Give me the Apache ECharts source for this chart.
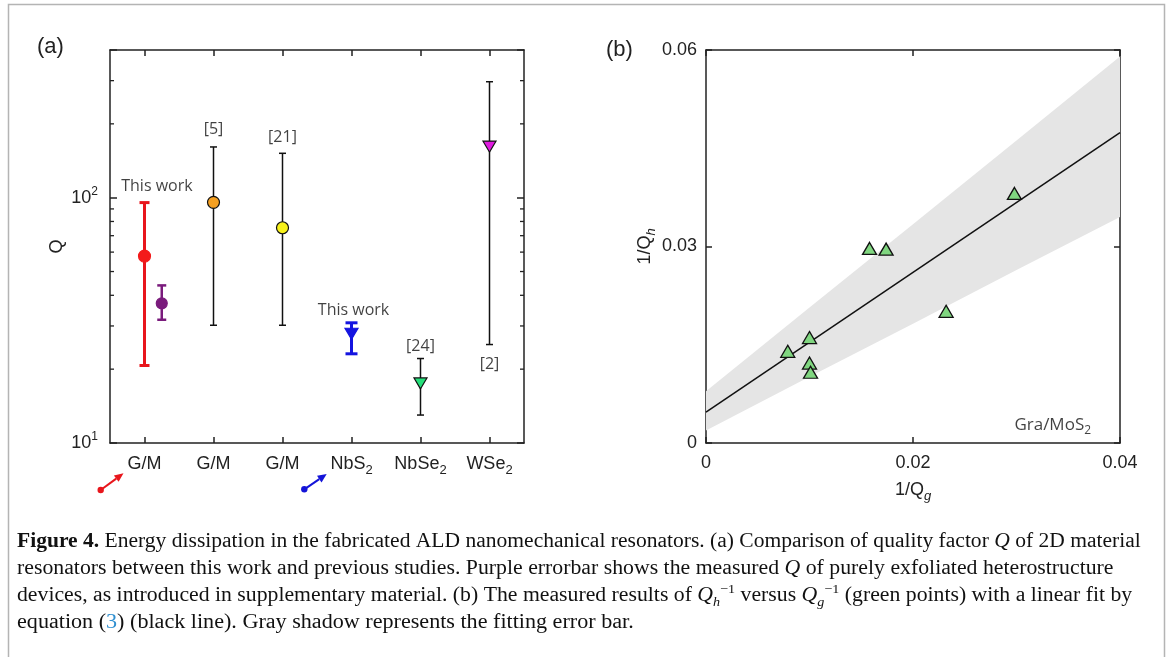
<!DOCTYPE html>
<html>
<head>
<meta charset="utf-8">
<script src="https://cdn.jsdelivr.net/npm/echarts@6/dist/echarts.min.js"></script>
<style>
  html, body { margin: 0; padding: 0; background: #fff; }
  #chart { width: 1171px; height: 657px; }
</style>
</head>
<body>
<div id="chart"></div>
<script>
// (a) quality factor of 2D material resonators
const catLabels = ['G/M', 'G/M', 'G/M', 'NbS{sub|2}', 'NbSe{sub|2}', 'WSe{sub|2}'];
const catTicks = [1, 2, 3, 4, 5, 6];
const qPos = [1, 1.25, 2, 3, 4, 5, 6];
const qVal = [57.8, 37.1, 95.7, 75.4, 27.9, 17.5, 161.5];
const qLow = [20.7, 31.8, 30.2, 30.2, 23.1, 13.0, 25.2];
const qHigh = [95.5, 43.9, 161, 151.7, 30.9, 22.1, 297];
const qMinorTicks = [20, 30, 40, 50, 60, 70, 80, 90, 200, 300];

const noteX = [1.18, 2, 3, 4.03, 5, 6];
const noteY = [111, 190, 176.6, 34.8, 24.8, 20.9];
const noteText = ['This work', '[5]', '[21]', 'This work', '[24]', '[2]'];

// (b) 1/Qh versus 1/Qg with linear fit
const invQg = [0.0158, 0.0174, 0.0298, 0.0232, 0.0100, 0.0079, 0.0100, 0.0101];
const invQh = [0.0297, 0.0296, 0.0381, 0.0201, 0.0161, 0.0140, 0.0122, 0.0108];
const fitX = [0, 0.04];
const fitY = [0.0047, 0.0474];
const bandX = [0, 0.01, 0.02, 0.03, 0.04];
const bandLow = [0.0019, 0.0101, 0.0182, 0.0264, 0.0345];
const bandHigh = [0.0079, 0.0207, 0.0334, 0.0462, 0.0590];

const INK = '#222';
const SANS = '"Liberation Sans", Arial, sans-serif';
const NOTE = '"Open Sans", sans-serif';
const SERIF = '"Liberation Serif", "Times New Roman", serif';

// marker / errorbar look for each entry of panel (a)
const qStyle = [
  { bar: '#e8161c', w: 3, cap: 10, symbol: 'circle', size: 12, fill: '#f31a1a', edge: '#f31a1a', rot: 0 },
  { bar: '#7a1b7c', w: 2.5, cap: 9, symbol: 'circle', size: 11, fill: '#7a1b7c', edge: '#7a1b7c', rot: 0 },
  { bar: '#111', w: 1.5, cap: 7, symbol: 'circle', size: 12, fill: '#f5a021', edge: '#111', rot: 0 },
  { bar: '#111', w: 1.5, cap: 7, symbol: 'circle', size: 12, fill: '#f8f21c', edge: '#111', rot: 0 },
  { bar: '#1414e0', w: 3, cap: 12, symbol: 'triangle', size: [13, 11], fill: '#1414e0', edge: '#1414e0', rot: 180 },
  { bar: '#111', w: 1.5, cap: 7, symbol: 'triangle', size: [13, 11], fill: '#25df7a', edge: '#111', rot: 180 },
  { bar: '#111', w: 1.5, cap: 7, symbol: 'triangle', size: [13, 11], fill: '#e01ae0', edge: '#111', rot: 180 }
];

const subRich = {
  sub: { fontSize: 13, fontFamily: SANS, color: INK, verticalAlign: 'bottom', lineHeight: 12 },
  sup: { fontSize: 12, fontFamily: SANS, color: INK, verticalAlign: 'top', lineHeight: 12 },
  isub: { fontSize: 13, fontFamily: SANS, color: INK, fontStyle: 'italic', verticalAlign: 'bottom', lineHeight: 12 }
};

function boxAxis(gridIndex, position, extra) {
  return Object.assign({
    gridIndex: gridIndex,
    position: position,
    axisLine: { show: true, onZero: false, lineStyle: { color: INK, width: 1.5 } },
    axisTick: { show: true, inside: true, length: 6, lineStyle: { color: INK, width: 1.5 } },
    axisLabel: { show: false },
    splitLine: { show: false },
    minorTick: { show: false }
  }, extra);
}

const chart = echarts.init(document.getElementById('chart'), null, { renderer: 'canvas' });

function arrow(x1, y1, x2, y2, color) {
  const a = Math.atan2(y2 - y1, x2 - x1);
  const L = 9, W = 4;
  const bx = x2 - L * Math.cos(a), by = y2 - L * Math.sin(a);
  const nx = -Math.sin(a) * W, ny = Math.cos(a) * W;
  return {
    type: 'group',
    children: [
      { type: 'circle', shape: { cx: x1, cy: y1, r: 3.2 }, style: { fill: color } },
      { type: 'line', shape: { x1: x1, y1: y1, x2: bx, y2: by }, style: { stroke: color, lineWidth: 2 } },
      { type: 'polygon', shape: { points: [[x2, y2], [bx + nx, by + ny], [bx - nx, by - ny]] }, style: { fill: color } }
    ]
  };
}

const captionRich = {
  b: { fontFamily: SERIF, fontSize: 20, fontWeight: 'bold', fill: '#111' },
  i: { fontFamily: SERIF, fontSize: 20, fontStyle: 'italic', fill: '#111' },
  sub: { fontFamily: SERIF, fontSize: 13, fontStyle: 'italic', fill: '#111', verticalAlign: 'bottom', lineHeight: 12 },
  sup: { fontFamily: SERIF, fontSize: 13, fill: '#111', verticalAlign: 'top', lineHeight: 12 },
  blue: { fontFamily: SERIF, fontSize: 20, fill: '#2f8fd0' }
};
const captionLines = [
  '{b|Figure 4.} Energy dissipation in the fabricated ALD nanomechanical resonators. (a) Comparison of quality factor {i|Q} of 2D material',
  'resonators between this work and previous studies. Purple errorbar shows the measured {i|Q} of purely exfoliated heterostructure',
  'devices, as introduced in supplementary material. (b) The measured results of {i|Q}{sub|h}{sup|\u22121} versus {i|Q}{sub|g}{sup|\u22121} (green points) with a linear fit by',
  'equation ({blue|3}) (black line). Gray shadow represents the fitting error bar.'
];
// horizontal stretch so the lines end where the reference lines end
const captionStretch = [1.077, 1.089, 1.087, 1.106];

const option = {
  animation: false,
  backgroundColor: '#fff',
  grid: [
    { left: 110, top: 50, width: 414, height: 393 },
    { left: 706, top: 50, width: 414, height: 393 }
  ],
  xAxis: [
    boxAxis(0, 'bottom', {
      type: 'value', min: 0.5, max: 6.5,
      axisTick: { show: true, inside: true, length: 6, customValues: catTicks, lineStyle: { color: INK, width: 1.5 } },
      axisLabel: {
        show: true, customValues: catTicks, margin: 8,
        formatter: v => catLabels[Math.round(v) - 1],
        color: INK, fontFamily: SANS, fontSize: 18, lineHeight: 26, rich: subRich
      }
    }),
    boxAxis(0, 'top', {
      type: 'value', min: 0.5, max: 6.5,
      axisTick: { show: true, inside: true, length: 6, customValues: catTicks, lineStyle: { color: INK, width: 1.5 } }
    }),
    boxAxis(1, 'bottom', {
      type: 'value', min: 0, max: 0.04, interval: 0.02,
      name: '1/Q{isub|g}', nameLocation: 'middle', nameGap: 30,
      nameTextStyle: { color: INK, fontFamily: SANS, fontSize: 18, lineHeight: 26, rich: subRich },
      axisLabel: {
        show: true, margin: 11, color: INK, fontFamily: SANS, fontSize: 18,
        formatter: v => (v === 0 ? '0' : v.toFixed(2))
      }
    }),
    boxAxis(1, 'top', { type: 'value', min: 0, max: 0.04, interval: 0.02 })
  ],
  yAxis: [
    boxAxis(0, 'left', {
      type: 'log', logBase: 10, min: 10, max: 400,
      axisTick: { show: true, inside: true, length: 7, lineStyle: { color: INK, width: 1.5 } },
      name: 'Q', nameLocation: 'middle', nameGap: 44, nameRotate: 90,
      nameTextStyle: { color: INK, fontFamily: SANS, fontSize: 18 },
      axisLabel: {
        show: true, margin: 12, color: INK, fontFamily: SANS, fontSize: 18, lineHeight: 24, rich: subRich,
        formatter: v => {
          const e = Math.log10(v);
          return Math.abs(e - Math.round(e)) < 1e-6 ? '10{sup|' + Math.round(e) + '}' : '';
        }
      }
    }),
    boxAxis(0, 'right', {
      type: 'log', logBase: 10, min: 10, max: 400,
      axisTick: { show: true, inside: true, length: 7, lineStyle: { color: INK, width: 1.5 } }
    }),
    boxAxis(1, 'left', {
      type: 'value', min: 0, max: 0.06, interval: 0.03,
      name: '1/Q{isub|h}', nameLocation: 'middle', nameGap: 48, nameRotate: 90,
      nameTextStyle: { color: INK, fontFamily: SANS, fontSize: 18, lineHeight: 26, rich: subRich },
      axisLabel: {
        show: true, margin: 9, color: INK, fontFamily: SANS, fontSize: 18,
        formatter: v => (v === 0 ? '0' : v.toFixed(2))
      }
    }),
    boxAxis(1, 'right', { type: 'value', min: 0, max: 0.06, interval: 0.03 })
  ],
  series: [
    // minor ticks of the log axis, both sides
    {
      type: 'custom', xAxisIndex: 0, yAxisIndex: 0, silent: true, clip: false,
      data: qMinorTicks.map(v => [1, v]),
      encode: { x: 0, y: 1 },
      renderItem: (params, api) => {
        const cs = params.coordSys;
        const y = api.coord([1, api.value(1)])[1];
        const st = { stroke: INK, lineWidth: 1.3 };
        return {
          type: 'group', children: [
            { type: 'line', shape: { x1: cs.x, y1: y, x2: cs.x + 4, y2: y }, style: st },
            { type: 'line', shape: { x1: cs.x + cs.width - 4, y1: y, x2: cs.x + cs.width, y2: y }, style: st }
          ]
        };
      }
    },
    // error bars
    {
      type: 'custom', xAxisIndex: 0, yAxisIndex: 0, silent: true, clip: false,
      data: qPos.map((x, i) => [x, qLow[i], qHigh[i]]),
      encode: { x: 0, y: [1, 2] },
      renderItem: (params, api) => {
        const s = qStyle[params.dataIndex];
        const x = api.value(0);
        const lo = api.coord([x, api.value(1)]);
        const hi = api.coord([x, api.value(2)]);
        const h = s.cap / 2;
        const st = { stroke: s.bar, lineWidth: s.w };
        return {
          type: 'group', children: [
            { type: 'line', shape: { x1: lo[0], y1: lo[1], x2: hi[0], y2: hi[1] }, style: st },
            { type: 'line', shape: { x1: lo[0] - h, y1: lo[1], x2: lo[0] + h, y2: lo[1] }, style: st },
            { type: 'line', shape: { x1: hi[0] - h, y1: hi[1], x2: hi[0] + h, y2: hi[1] }, style: st }
          ]
        };
      }
    },
    // markers
    {
      type: 'scatter', xAxisIndex: 0, yAxisIndex: 0, silent: true, z: 5,
      data: qPos.map((x, i) => ({
        value: [x, qVal[i]],
        symbol: qStyle[i].symbol,
        symbolSize: qStyle[i].size,
        symbolRotate: qStyle[i].rot,
        itemStyle: { color: qStyle[i].fill, borderColor: qStyle[i].edge, borderWidth: 1.2, opacity: 1 }
      }))
    },
    // text notes
    {
      type: 'scatter', xAxisIndex: 0, yAxisIndex: 0, silent: true, symbolSize: 0,
      data: noteX.map((x, i) => [x, noteY[i], noteText[i]]),
      label: {
        show: true, position: 'inside', formatter: p => p.value[2],
        color: '#111', fontFamily: NOTE, fontSize: 16
      }
    },
    // fit error band
    {
      type: 'custom', xAxisIndex: 2, yAxisIndex: 2, silent: true, z: 1,
      data: [[0, 0]],
      encode: { x: 0, y: 1 },
      renderItem: (params, api) => {
        const pts = [];
        bandX.forEach((x, i) => pts.push(api.coord([x, bandHigh[i]])));
        for (let i = bandX.length - 1; i >= 0; i--) pts.push(api.coord([bandX[i], bandLow[i]]));
        return { type: 'polygon', shape: { points: pts }, style: { fill: '#e5e5e5' } };
      }
    },
    // linear fit
    {
      type: 'line', xAxisIndex: 2, yAxisIndex: 2, silent: true, z: 3,
      data: fitX.map((x, i) => [x, fitY[i]]),
      symbol: 'none',
      lineStyle: { color: '#111', width: 1.5 }
    },
    // measured points
    {
      type: 'scatter', xAxisIndex: 2, yAxisIndex: 2, silent: true, z: 5,
      data: invQg.map((x, i) => [x, invQh[i]]),
      symbol: 'triangle', symbolSize: [14, 12],
      itemStyle: { color: '#80d680', borderColor: '#111', borderWidth: 1.3, opacity: 1 }
    },
    {
      type: 'scatter', xAxisIndex: 2, yAxisIndex: 2, silent: true, symbolSize: 0,
      data: [[0.0335, 0.0028]],
      label: {
        show: true, position: 'inside', formatter: 'Gra/MoS{s|2}',
        color: '#111', fontFamily: NOTE, fontSize: 17, lineHeight: 24,
        rich: { s: { fontFamily: NOTE, fontSize: 12, color: '#111', verticalAlign: 'bottom', lineHeight: 12 } }
      }
    }
  ],
  graphic: [
    { type: 'rect', silent: true, shape: { x: 8.5, y: 4.5, width: 1156, height: 700 }, style: { fill: 'none', stroke: '#b4b4b4', lineWidth: 1.5 } },
    { type: 'text', silent: true, style: { text: '(a)', x: 37, y: 47, verticalAlign: 'middle', fontFamily: SANS, fontSize: 22, fill: INK } },
    { type: 'text', silent: true, style: { text: '(b)', x: 606, y: 50, verticalAlign: 'middle', fontFamily: SANS, fontSize: 22, fill: INK } },
    arrow(100.7, 490, 123.5, 473.3, '#e8161c'),
    arrow(304.3, 489.3, 326.7, 474, '#1414d8')
  ].concat(captionLines.map((t, i) => ({
    type: 'text', silent: true,
    x: 17, y: 542 + i * 27, scaleX: captionStretch[i],
    style: {
      text: t, x: 0, y: 0, verticalAlign: 'middle',
      fontFamily: SERIF, fontSize: 20, lineHeight: 26, fill: '#111', rich: captionRich
    }
  })))
};

chart.setOption(option);
</script>
</body>
</html>
